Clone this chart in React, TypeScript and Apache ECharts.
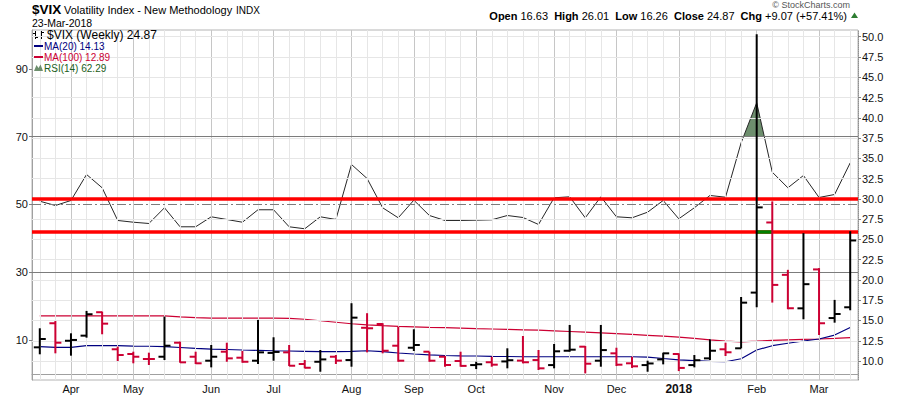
import React, { useEffect, useRef } from 'react';
import * as echarts from 'echarts';

const weeks = [
  '2017-03-24', '2017-03-31', '2017-04-07', '2017-04-14', '2017-04-21', '2017-04-28',
  '2017-05-05', '2017-05-12', '2017-05-19', '2017-05-26', '2017-06-02', '2017-06-09',
  '2017-06-16', '2017-06-23', '2017-06-30', '2017-07-07', '2017-07-14', '2017-07-21',
  '2017-07-28', '2017-08-04', '2017-08-11', '2017-08-18', '2017-08-25', '2017-09-01',
  '2017-09-08', '2017-09-15', '2017-09-22', '2017-09-29', '2017-10-06', '2017-10-13',
  '2017-10-20', '2017-10-27', '2017-11-03', '2017-11-10', '2017-11-17', '2017-11-24',
  '2017-12-01', '2017-12-08', '2017-12-15', '2017-12-22', '2017-12-29', '2018-01-05',
  '2018-01-12', '2018-01-19', '2018-01-26', '2018-02-02', '2018-02-09', '2018-02-16',
  '2018-02-23', '2018-03-02', '2018-03-09', '2018-03-16', '2018-03-23',
];

const opens = [11.69, 14.66, 12.5, 13.13, 16.02, 11.45, 10.87, 10.25, 10.53, 12.26, 10.53, 10.04, 11.15, 10.41, 10.04, 11.0, 11.07, 9.63, 9.91, 10.53, 10.12, 14.1, 14.57, 11.89, 11.64, 11.15, 10.53, 10.0, 9.5, 9.85, 9.95, 10.05, 10.12, 9.5, 11.27, 11.77, 10.04, 10.95, 9.72, 9.5, 10.2, 10.87, 9.5, 10.33, 11.45, 11.57, 18.44, 27.09, 20.63, 16.5, 21.3, 15.3, 16.63];
const highs = [14.04, 14.94, 13.42, 16.18, 16.09, 11.77, 11.15, 11.03, 15.48, 12.39, 11.15, 11.98, 12.26, 11.24, 15.07, 12.93, 11.98, 10.12, 11.36, 10.74, 17.13, 15.9, 14.66, 14.24, 13.92, 11.15, 10.62, 11.15, 9.91, 10.53, 11.57, 13.09, 11.36, 12.1, 14.45, 11.85, 14.45, 11.64, 10.53, 10.04, 11.03, 10.95, 10.74, 12.68, 12.26, 17.9, 50.3, 29.69, 21.25, 25.78, 21.46, 17.54, 26.01];
const lows = [10.83, 10.95, 10.66, 12.88, 13.3, 10.0, 9.72, 9.51, 10.12, 9.79, 9.63, 9.22, 9.91, 9.79, 9.63, 10.04, 9.38, 9.1, 8.68, 9.63, 9.3, 11.07, 10.95, 9.91, 11.24, 9.91, 9.3, 9.3, 9.01, 9.3, 9.1, 9.71, 8.89, 9.1, 11.15, 8.48, 9.3, 9.38, 9.15, 8.68, 9.59, 8.76, 9.22, 10.12, 10.62, 11.57, 16.64, 17.21, 16.39, 15.15, 13.21, 14.73, 16.26];
const closes = [12.72, 12.26, 12.6, 15.77, 14.61, 10.74, 10.53, 10.25, 11.89, 9.84, 9.72, 10.53, 10.33, 9.91, 11.07, 11.12, 9.42, 9.17, 10.2, 10.05, 15.35, 14.04, 11.27, 10.04, 11.98, 10.04, 9.51, 9.4, 9.6, 9.55, 10.1, 9.85, 9.1, 11.2, 11.4, 9.67, 11.35, 9.55, 9.35, 9.7, 10.95, 9.15, 10.1, 11.27, 11.08, 17.2, 28.95, 19.39, 16.51, 19.48, 14.66, 15.8, 24.87];
const priorClose = 11.3;

const ma20 = [11.77, 11.69, 11.69, 11.89, 11.89, 11.89, 11.85, 11.82, 11.77, 11.67, 11.57, 11.48, 11.42, 11.36, 11.32, 11.27, 11.24, 11.2, 11.15, 11.15, 11.2, 11.27, 11.17, 10.99, 10.87, 10.77, 10.68, 10.64, 10.62, 10.58, 10.56, 10.53, 10.53, 10.53, 10.53, 10.53, 10.53, 10.53, 10.53, 10.49, 10.31, 10.15, 10.04, 9.96, 9.91, 10.28, 11.36, 11.89, 12.19, 12.47, 12.72, 13.2, 14.13];
const ma100 = [15.56, 15.56, 15.56, 15.56, 15.56, 15.56, 15.56, 15.56, 15.56, 15.45, 15.35, 15.3, 15.3, 15.3, 15.3, 15.3, 15.27, 15.15, 14.97, 14.78, 14.6, 14.47, 14.37, 14.28, 14.22, 14.16, 14.12, 14.07, 14.0, 13.95, 13.9, 13.85, 13.8, 13.72, 13.64, 13.56, 13.47, 13.38, 13.28, 13.17, 13.06, 12.94, 12.8, 12.6, 12.45, 12.37, 12.45, 12.55, 12.62, 12.67, 12.72, 12.8, 12.89];
const rsi14 = [50.97, 49.7, 51.18, 58.86, 54.93, 45.28, 44.77, 44.39, 49.03, 43.42, 43.42, 46.37, 45.57, 44.77, 48.44, 48.44, 43.42, 42.83, 46.37, 45.57, 61.81, 57.68, 49.03, 46.07, 51.27, 46.75, 45.28, 45.28, 45.37, 45.48, 46.75, 46.16, 44.1, 51.98, 52.27, 46.07, 52.27, 46.37, 46.07, 47.73, 51.18, 45.78, 49.03, 52.66, 52.15, 68.21, 80.02, 59.54, 54.93, 58.56, 52.07, 52.95, 62.29];

const monthLabelIdx = [2, 6, 11, 15, 20, 24, 28, 33, 37, 41, 46, 50];
const monthLabelText = ['Apr', 'May', 'Jun', 'Jul', 'Aug', 'Sep', 'Oct', 'Nov', 'Dec', '2018', 'Feb', 'Mar'];
const priceTicks = [10, 12.5, 15, 17.5, 20, 22.5, 25, 27.5, 30, 32.5, 35, 37.5, 40, 42.5, 45, 47.5, 50];
const rsiTicks = [10, 30, 50, 70, 90];
const rsiBands = [70, 30];
const rsiMid = 50;
const rsiOverbought = 70;
const levelLines = [30.0, 26.0];
const greenSegIdx = [46, 47];
const greenSegValue = 26.0;

const hdrOpen = '16.63';
const hdrHigh = '26.01';
const hdrLow = '16.26';
const hdrClose = '24.87';
const hdrChg = '+9.07 (+57.41%)';
const lastClose = '24.87';
const lastMa20 = '14.13';
const lastMa100 = '12.89';
const lastRsi = '62.29';

const FONT = '"Liberation Sans", Arial, Helvetica, sans-serif';
const RED_BAR = '#cc0033';
const NAVY = '#000080';
const RSI_FILL = '#6e8f6e';

function buildOption(): any {
  const ohlcData = weeks.map((_, i) => [i, opens[i], highs[i], lows[i], closes[i], i > 0 ? closes[i - 1] : priorClose]);
  const rsiSegData = rsi14.slice(0, -1).map((v, i) => [i, v, rsi14[i + 1]]);

  const gridLines: any[] = [];
  weeks.forEach((_w, i) => {
    gridLines.push({
      xAxis: i,
      lineStyle: { color: monthLabelIdx.includes(i) ? '#c6c6c6' : '#e6e6e6', width: 1, type: 'solid' },
    });
  });
  priceTicks.forEach((v) => {
    gridLines.push({ yAxis: v, lineStyle: { color: '#e6e6e6', width: 1, type: 'solid' } });
  });

  const textStyle = (extra: any) => ({ fontFamily: FONT, fill: '#000', verticalAlign: 'middle', align: 'left', ...extra });

  return {
    animation: false,
    backgroundColor: '#ffffff',
    grid: { left: 32, right: 42, top: 30, bottom: 16, show: true, borderColor: '#b4b4b4', borderWidth: 1 },
    xAxis: {
      type: 'category',
      data: weeks,
      boundaryGap: true,
      axisLine: { show: true, lineStyle: { color: '#a0a0a0' } },
      axisTick: { show: true, alignWithLabel: true, interval: 0, length: 3, lineStyle: { color: '#a0a0a0' } },
      axisLabel: {
        interval: (idx: number) => monthLabelIdx.includes(idx),
        formatter: (_v: string, idx: number) => {
          const k = monthLabelIdx.indexOf(idx);
          if (k < 0) return '';
          const t = monthLabelText[k];
          return /^\d+$/.test(t) ? '{b|' + t + '}' : t;
        },
        fontFamily: FONT,
        fontSize: 11,
        color: '#111',
        margin: 3,
        rich: { b: { fontWeight: 'bold', fontSize: 12, fontFamily: FONT, color: '#111' } },
      },
      splitLine: { show: false },
    },
    yAxis: [
      {
        type: 'value',
        position: 'left',
        min: -1.81,
        max: 101.51,
        axisLine: { show: true, lineStyle: { color: '#a0a0a0' } },
        axisTick: { show: true, length: 3, customValues: rsiTicks, lineStyle: { color: '#808080' } },
        axisLabel: { customValues: rsiTicks, fontFamily: FONT, fontSize: 11, color: '#111', margin: 4 },
        splitLine: { show: false },
      },
      {
        type: 'value',
        position: 'right',
        min: 7.66,
        max: 50.83,
        axisLine: { show: true, lineStyle: { color: '#909090', type: 'dotted' } },
        axisTick: { show: true, length: 3, customValues: priceTicks, lineStyle: { color: '#808080' } },
        axisLabel: {
          customValues: priceTicks,
          formatter: (v: number) => v.toFixed(1),
          fontFamily: FONT,
          fontSize: 11,
          color: '#111',
          margin: 4,
        },
        splitLine: { show: false },
      },
    ],
    series: [
      {
        name: 'gridlines',
        type: 'line',
        xAxisIndex: 0,
        yAxisIndex: 1,
        data: closes,
        symbol: 'none',
        lineStyle: { opacity: 0 },
        silent: true,
        z: 1,
        markLine: { silent: true, symbol: ['none', 'none'], label: { show: false }, emphasis: { disabled: true }, data: gridLines },
      },
      {
        name: 'RSI fill',
        type: 'custom',
        xAxisIndex: 0,
        yAxisIndex: 0,
        data: rsiSegData,
        encode: { x: 0, y: [1, 2] },
        silent: true,
        z: 3,
        renderItem: (_p: any, api: any) => {
          const i = api.value(0);
          const a = api.value(1);
          const b = api.value(2);
          const th = rsiOverbought;
          if (a <= th && b <= th) return null;
          const pA = api.coord([i, a]);
          const pB = api.coord([i + 1, b]);
          const yTh = api.coord([i, th])[1];
          let pts: number[][];
          if (a > th && b > th) {
            pts = [[pA[0], yTh], pA, pB, [pB[0], yTh]];
          } else if (a > th) {
            const t = (a - th) / (a - b);
            const x = pA[0] + t * (pB[0] - pA[0]);
            pts = [[pA[0], yTh], pA, [x, yTh]];
          } else {
            const t = (th - a) / (b - a);
            const x = pA[0] + t * (pB[0] - pA[0]);
            pts = [[x, yTh], pB, [pB[0], yTh]];
          }
          return { type: 'polygon', shape: { points: pts }, style: { fill: RSI_FILL } };
        },
      },
      {
        name: 'RSI(14)',
        type: 'line',
        xAxisIndex: 0,
        yAxisIndex: 0,
        data: rsi14,
        symbol: 'none',
        lineStyle: { color: '#262626', width: 1 },
        silent: true,
        z: 4,
        markLine: {
          silent: true,
          symbol: ['none', 'none'],
          label: { show: false },
          emphasis: { disabled: true },
          data: [
            ...rsiBands.map((v) => ({ yAxis: v, lineStyle: { color: '#7c7c7c', width: 1, type: 'solid' } })),
            { yAxis: rsiMid, lineStyle: { color: '#7c7c7c', width: 1, type: [9, 3, 2, 3] } },
          ],
        },
      },
      {
        name: 'MA(100)',
        type: 'line',
        xAxisIndex: 0,
        yAxisIndex: 1,
        data: ma100,
        symbol: 'none',
        lineStyle: { color: RED_BAR, width: 1.2 },
        silent: true,
        z: 4,
      },
      {
        name: 'MA(20)',
        type: 'line',
        xAxisIndex: 0,
        yAxisIndex: 1,
        data: ma20,
        symbol: 'none',
        lineStyle: { color: NAVY, width: 1.2 },
        silent: true,
        z: 4,
      },
      {
        name: 'levels',
        type: 'line',
        xAxisIndex: 0,
        yAxisIndex: 1,
        data: closes,
        symbol: 'none',
        lineStyle: { opacity: 0 },
        silent: true,
        z: 5,
        markLine: {
          silent: true,
          symbol: ['none', 'none'],
          label: { show: false },
          emphasis: { disabled: true },
          data: [
            ...levelLines.map((v) => ({ yAxis: v, lineStyle: { color: '#ff0000', width: 3.5, type: 'solid' } })),
            [
              { coord: [greenSegIdx[0], greenSegValue], lineStyle: { color: '#008000', width: 3.5, type: 'solid' } },
              { coord: [greenSegIdx[1], greenSegValue] },
            ],
          ],
        },
      },
      {
        name: '$VIX',
        type: 'custom',
        xAxisIndex: 0,
        yAxisIndex: 1,
        data: ohlcData,
        encode: { x: 0, y: [1, 2, 3, 4] },
        silent: true,
        z: 6,
        renderItem: (_p: any, api: any) => {
          const i = api.value(0);
          const o = api.value(1);
          const h = api.value(2);
          const l = api.value(3);
          const c = api.value(4);
          const prev = api.value(5);
          const pH = api.coord([i, h]);
          const x = pH[0];
          const yH = pH[1];
          const yL = api.coord([i, l])[1];
          const yO = api.coord([i, o])[1];
          const yC = api.coord([i, c])[1];
          const color = c >= prev ? '#000000' : RED_BAR;
          const style = { stroke: color, lineWidth: 2 };
          return {
            type: 'group',
            children: [
              { type: 'line', shape: { x1: x, y1: yH, x2: x, y2: yL }, style },
              { type: 'line', shape: { x1: x - 6, y1: yO, x2: x, y2: yO }, style },
              { type: 'line', shape: { x1: x, y1: yC, x2: x + 6, y2: yC }, style },
            ],
          };
        },
      },
    ],
    graphic: [
      { type: 'text', z: 100, x: 32, y: 9.5, style: textStyle({ text: '$VIX', fontSize: 13.5, fontWeight: 'bold' }) },
      { type: 'text', z: 100, x: 64, y: 10, style: textStyle({ text: 'Volatility Index - New Methodology', fontSize: 11 }) },
      { type: 'text', z: 100, x: 236, y: 10.5, style: textStyle({ text: 'INDX', fontSize: 10 }) },
      { type: 'text', z: 100, x: 32, y: 22.5, style: textStyle({ text: '23-Mar-2018', fontSize: 10.5 }) },
      { type: 'text', z: 100, x: 850, y: 5, style: textStyle({ text: '© StockCharts.com', fontSize: 9, fill: '#555', align: 'right' }) },
      {
        type: 'text',
        z: 100,
        x: 847,
        y: 15.5,
        style: {
          text: `{b|Open} {v|${hdrOpen}}  {b|High} {v|${hdrHigh}}  {b|Low} {v|${hdrLow}}  {b|Close} {v|${hdrClose}}  {b|Chg} {v|${hdrChg}}`,
          align: 'right',
          verticalAlign: 'middle',
          fontFamily: FONT,
          fontSize: 11,
          rich: {
            b: { fontWeight: 'bold', fontSize: 11, fontFamily: FONT, fill: '#000' },
            v: { fontSize: 11, fontFamily: FONT, fill: '#000' },
          },
        },
      },
      { type: 'polygon', z: 100, shape: { points: [[851, 18], [858, 18], [854.5, 12.5]] }, style: { fill: '#2e7d32' } },

      // legend
      {
        type: 'group',
        z: 100,
        children: [
          { type: 'line', shape: { x1: 35.5, y1: 31, x2: 35.5, y2: 39 }, style: { stroke: '#000', lineWidth: 1 } },
          { type: 'line', shape: { x1: 33, y1: 33.5, x2: 35.5, y2: 33.5 }, style: { stroke: '#000', lineWidth: 1 } },
          { type: 'line', shape: { x1: 35.5, y1: 37.5, x2: 38, y2: 37.5 }, style: { stroke: '#000', lineWidth: 1 } },
          { type: 'line', shape: { x1: 41.5, y1: 31, x2: 41.5, y2: 39 }, style: { stroke: '#000', lineWidth: 1 } },
          { type: 'line', shape: { x1: 39, y1: 36.5, x2: 41.5, y2: 36.5 }, style: { stroke: '#000', lineWidth: 1 } },
          { type: 'line', shape: { x1: 41.5, y1: 32.5, x2: 44, y2: 32.5 }, style: { stroke: '#000', lineWidth: 1 } },
        ],
      },
      { type: 'text', z: 100, x: 47, y: 35, style: textStyle({ text: `$VIX (Weekly) ${lastClose}`, fontSize: 12 }) },
      { type: 'line', z: 100, shape: { x1: 34, y1: 46, x2: 43, y2: 46 }, style: { stroke: NAVY, lineWidth: 2 } },
      { type: 'text', z: 100, x: 44, y: 46, style: textStyle({ text: `MA(20) ${lastMa20}`, fontSize: 10, fill: NAVY }) },
      { type: 'line', z: 100, shape: { x1: 34, y1: 57, x2: 43, y2: 57 }, style: { stroke: RED_BAR, lineWidth: 2 } },
      { type: 'text', z: 100, x: 44, y: 57, style: textStyle({ text: `MA(100) ${lastMa100}`, fontSize: 10, fill: RED_BAR }) },
      { type: 'polygon', z: 100, shape: { points: [[34, 71], [36.5, 65], [38.5, 68], [40.5, 64.5], [43, 71]] }, style: { fill: RSI_FILL } },
      { type: 'text', z: 100, x: 44, y: 68, style: textStyle({ text: `RSI(14) ${lastRsi}`, fontSize: 10, fill: '#1b5e20' }) },
    ],
  };
}

export default function App() {
  const ref = useRef<HTMLDivElement>(null);
  useEffect(() => {
    document.body.style.margin = '0';
    if (!ref.current) return;
    const chart = echarts.init(ref.current, undefined, { renderer: 'svg' });
    chart.setOption(buildOption());
    return () => chart.dispose();
  }, []);
  return <div ref={ref} style={{ width: 900, height: 396 }} />;
}
